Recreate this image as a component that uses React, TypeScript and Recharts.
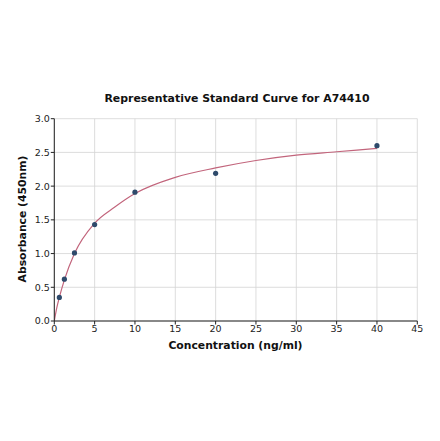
import {
  ComposedChart, Line, Scatter, XAxis, YAxis, CartesianGrid,
} from 'recharts';

// standard points (concentration ng/ml, OD 450nm)
const stdConc = [0.625, 1.25, 2.5, 5, 10, 20, 40];
const stdOD = [0.35, 0.62, 1.01, 1.43, 1.91, 2.19, 2.6];

// fitted curve
const fitConc = [0, 0.3, 0.625, 1.25, 2.5, 5, 7.5, 10, 15, 20, 25, 30, 35, 40];
const fitOD = [0, 0.19, 0.35, 0.61, 1.0, 1.45, 1.69, 1.89, 2.13, 2.27, 2.38, 2.46, 2.51, 2.56];

const xTicks = [0, 5, 10, 15, 20, 25, 30, 35, 40, 45];
const yTicks = [0, 0.5, 1, 1.5, 2, 2.5, 3];

const points = stdConc.map((x, i) => ({ x, y: stdOD[i] }));
const curve = fitConc.map((x, i) => ({ x, y: fitOD[i] }));

const FONT = '"DejaVu Sans", sans-serif';
const AXIS = '#222';

export default function App() {
  const tick = { fontSize: 9.5, fill: '#222', fontFamily: FONT };
  return (
    <div style={{ position: 'absolute', left: 0, top: 0, width: 440, height: 441, background: '#fff', fontFamily: FONT }}>
      <div style={{ position: 'absolute', top: 92, left: 0, width: 474, textAlign: 'center', fontSize: 10.9, fontWeight: 700, color: '#111' }}>
        Representative Standard Curve for A74410
      </div>
      <div style={{ position: 'absolute', top: 339, left: 54, width: 363, textAlign: 'center', fontSize: 10.8, fontWeight: 700, color: '#111' }}>
        Concentration (ng/ml)
      </div>
      <div style={{ position: 'absolute', left: 22, top: 219, width: 0, height: 0 }}>
        <div style={{
          position: 'absolute', transform: 'translate(-50%, -50%) rotate(-90deg)', whiteSpace: 'nowrap',
          fontSize: 10.8, fontWeight: 700, color: '#111',
        }}>
          Absorbance (450nm)
        </div>
      </div>
      <ComposedChart width={440} height={441} margin={{ top: 118.7, right: 22.7, bottom: 90, left: 24.3 }}>
        <CartesianGrid stroke="#d4d4d4" strokeWidth={0.8} />
        <XAxis
          dataKey="x" type="number" domain={[0, 45]} ticks={xTicks} allowDataOverflow
          tick={tick} tickSize={3.5} tickMargin={1} height={30}
          stroke={AXIS} axisLine={{ stroke: AXIS, strokeWidth: 1 }}
        />
        <XAxis xAxisId="top" orientation="top" type="number" domain={[0, 45]} height={0}
          tick={false} tickLine={false} axisLine={{ stroke: AXIS, strokeWidth: 1 }} />
        <YAxis
          dataKey="y" type="number" domain={[0, 3]} ticks={yTicks} allowDataOverflow
          tick={tick} tickSize={3.5} tickMargin={1} width={30}
          tickFormatter={(v) => v.toFixed(1)}
          stroke={AXIS} axisLine={{ stroke: AXIS, strokeWidth: 1 }}
        />
        <YAxis yAxisId="right" orientation="right" type="number" domain={[0, 3]} width={0}
          tick={false} tickLine={false} axisLine={{ stroke: AXIS, strokeWidth: 1 }} />
        <Line
          data={curve} dataKey="y" type="monotone" stroke="#c2657c" strokeWidth={1.2}
          dot={false} activeDot={false} isAnimationActive={false}
        />
        <Scatter data={points} dataKey="y" fill="#2e4a6b" isAnimationActive={false}
          shape={(p: any) => <circle cx={p.cx} cy={p.cy} r={2.6} fill="#2e4a6b" />} />
      </ComposedChart>
    </div>
  );
}
